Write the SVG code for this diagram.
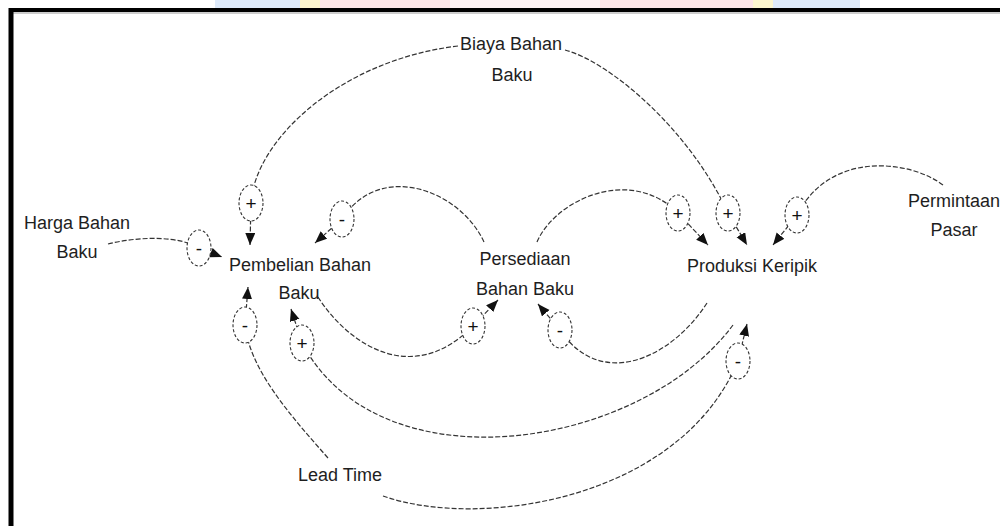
<svg xmlns="http://www.w3.org/2000/svg" width="1000" height="526" viewBox="0 0 1000 526">
  <style>
    .lbl { font-family: "Liberation Sans", Arial, sans-serif; font-size: 18px; fill: #1e1e1e; text-anchor: middle; }
    .sgn { font-family: "Liberation Sans", Arial, sans-serif; font-size: 19px; fill: #111; text-anchor: middle; dominant-baseline: central; }
    .lnk { fill: none; stroke: #333; stroke-width: 1.2; stroke-dasharray: 5 2; marker-end: url(#arr); }
    .pol { fill: #fff; stroke: #333; stroke-width: 1.1; stroke-dasharray: 3 2; }
  </style>
  <defs>
    <marker id="arr" markerUnits="userSpaceOnUse" markerWidth="14" markerHeight="12" refX="12" refY="5" orient="auto">
      <path d="M0,0 L12,5 L0,10 Z" fill="#111"/>
    </marker>
  </defs>
  <rect x="0" y="0" width="1000" height="526" fill="#fff"/>
  <g id="watermark" opacity="0.75">
    <rect x="215" y="0" width="86" height="8" fill="#d3e3f8"/>
    <rect x="300" y="0" width="20" height="8" fill="#fbf4c0"/>
    <rect x="320" y="0" width="130" height="8" fill="#fbdde0"/>
    <rect x="450" y="0" width="150" height="8" fill="#fdf0f1"/>
    <rect x="600" y="0" width="153" height="8" fill="#fbdde0"/>
    <rect x="753" y="0" width="20" height="8" fill="#fbf4c0"/>
    <rect x="773" y="0" width="87" height="8" fill="#d3e3f8"/>
  </g>
  <g id="frame">
    <line x1="9" y1="10" x2="1000" y2="10" stroke="#000" stroke-width="4"/>
    <line x1="9" y1="13" x2="1000" y2="13" stroke="#bbb" stroke-width="1.5"/>
    <line x1="11" y1="8" x2="11" y2="526" stroke="#000" stroke-width="5"/>
  </g>
  <g id="connectors">
    <path class="lnk" d="M458,46 C340,60 255,140 251,203 L250,245"/>
    <path class="lnk" d="M565,50 C610,62 690,130 728,213 L747,245"/>
    <path class="lnk" d="M537,242 C555,200 630,165 678,213 L708,245"/>
    <path class="lnk" d="M943,185 C910,160 830,150 797,215 L773,245"/>
    <path class="lnk" d="M108,244 C140,236 180,236 199,248 L222,257"/>
    <path class="lnk" d="M484,242 C460,190 380,160 342,219 L315,243"/>
    <path class="lnk" d="M318,297 C345,340 410,390 473,326 L498,300"/>
    <path class="lnk" d="M707,303 C670,360 600,390 560,330 L538,304"/>
    <path class="lnk" d="M733,325 C640,450 380,490 302,343 L291,309"/>
    <path class="lnk" d="M328,458 C290,415 250,370 245,325 L248,287"/>
    <path class="lnk" d="M383,496 C480,530 680,500 738,361 L747,324"/>
  </g>
  <g id="polarities">
    <g id="p1"><ellipse class="pol" cx="251" cy="203" rx="12" ry="18"/><text class="sgn" x="251" y="203">+</text></g>
    <g id="p2"><ellipse class="pol" cx="728" cy="213" rx="12" ry="18"/><text class="sgn" x="728" y="213">+</text></g>
    <g id="p3"><ellipse class="pol" cx="678" cy="213" rx="12" ry="18"/><text class="sgn" x="678" y="213">+</text></g>
    <g id="p4"><ellipse class="pol" cx="797" cy="215" rx="12" ry="18"/><text class="sgn" x="797" y="215">+</text></g>
    <g id="p5"><ellipse class="pol" cx="199" cy="248" rx="12" ry="18"/><text class="sgn" x="199" y="248">-</text></g>
    <g id="p6"><ellipse class="pol" cx="342" cy="219" rx="12" ry="18"/><text class="sgn" x="342" y="219">-</text></g>
    <g id="p7"><ellipse class="pol" cx="473" cy="326" rx="12" ry="18"/><text class="sgn" x="473" y="326">+</text></g>
    <g id="p8"><ellipse class="pol" cx="560" cy="330" rx="12" ry="18"/><text class="sgn" x="560" y="330">-</text></g>
    <g id="p9"><ellipse class="pol" cx="302" cy="343" rx="12" ry="18"/><text class="sgn" x="302" y="343">+</text></g>
    <g id="p10"><ellipse class="pol" cx="245" cy="325" rx="12" ry="18"/><text class="sgn" x="245" y="325">-</text></g>
    <g id="p11"><ellipse class="pol" cx="738" cy="361" rx="12" ry="18"/><text class="sgn" x="738" y="361">-</text></g>
  </g>
  <g id="biaya-bahan-baku"><text class="lbl" x="511" y="50">Biaya Bahan</text><text class="lbl" x="512" y="81">Baku</text></g>
  <g id="harga-bahan-baku"><text class="lbl" x="77" y="229">Harga Bahan</text><text class="lbl" x="77" y="258">Baku</text></g>
  <g id="pembelian-bahan-baku"><text class="lbl" x="300" y="271">Pembelian Bahan</text><text class="lbl" x="299" y="299">Baku</text></g>
  <g id="persediaan-bahan-baku"><text class="lbl" x="525" y="265">Persediaan</text><text class="lbl" x="525" y="295">Bahan Baku</text></g>
  <g id="produksi-keripik"><text class="lbl" x="752" y="272">Produksi Keripik</text></g>
  <g id="permintaan-pasar"><text class="lbl" x="954" y="207">Permintaan</text><text class="lbl" x="954" y="236">Pasar</text></g>
  <g id="lead-time"><text class="lbl" x="340" y="481">Lead Time</text></g>
</svg>
